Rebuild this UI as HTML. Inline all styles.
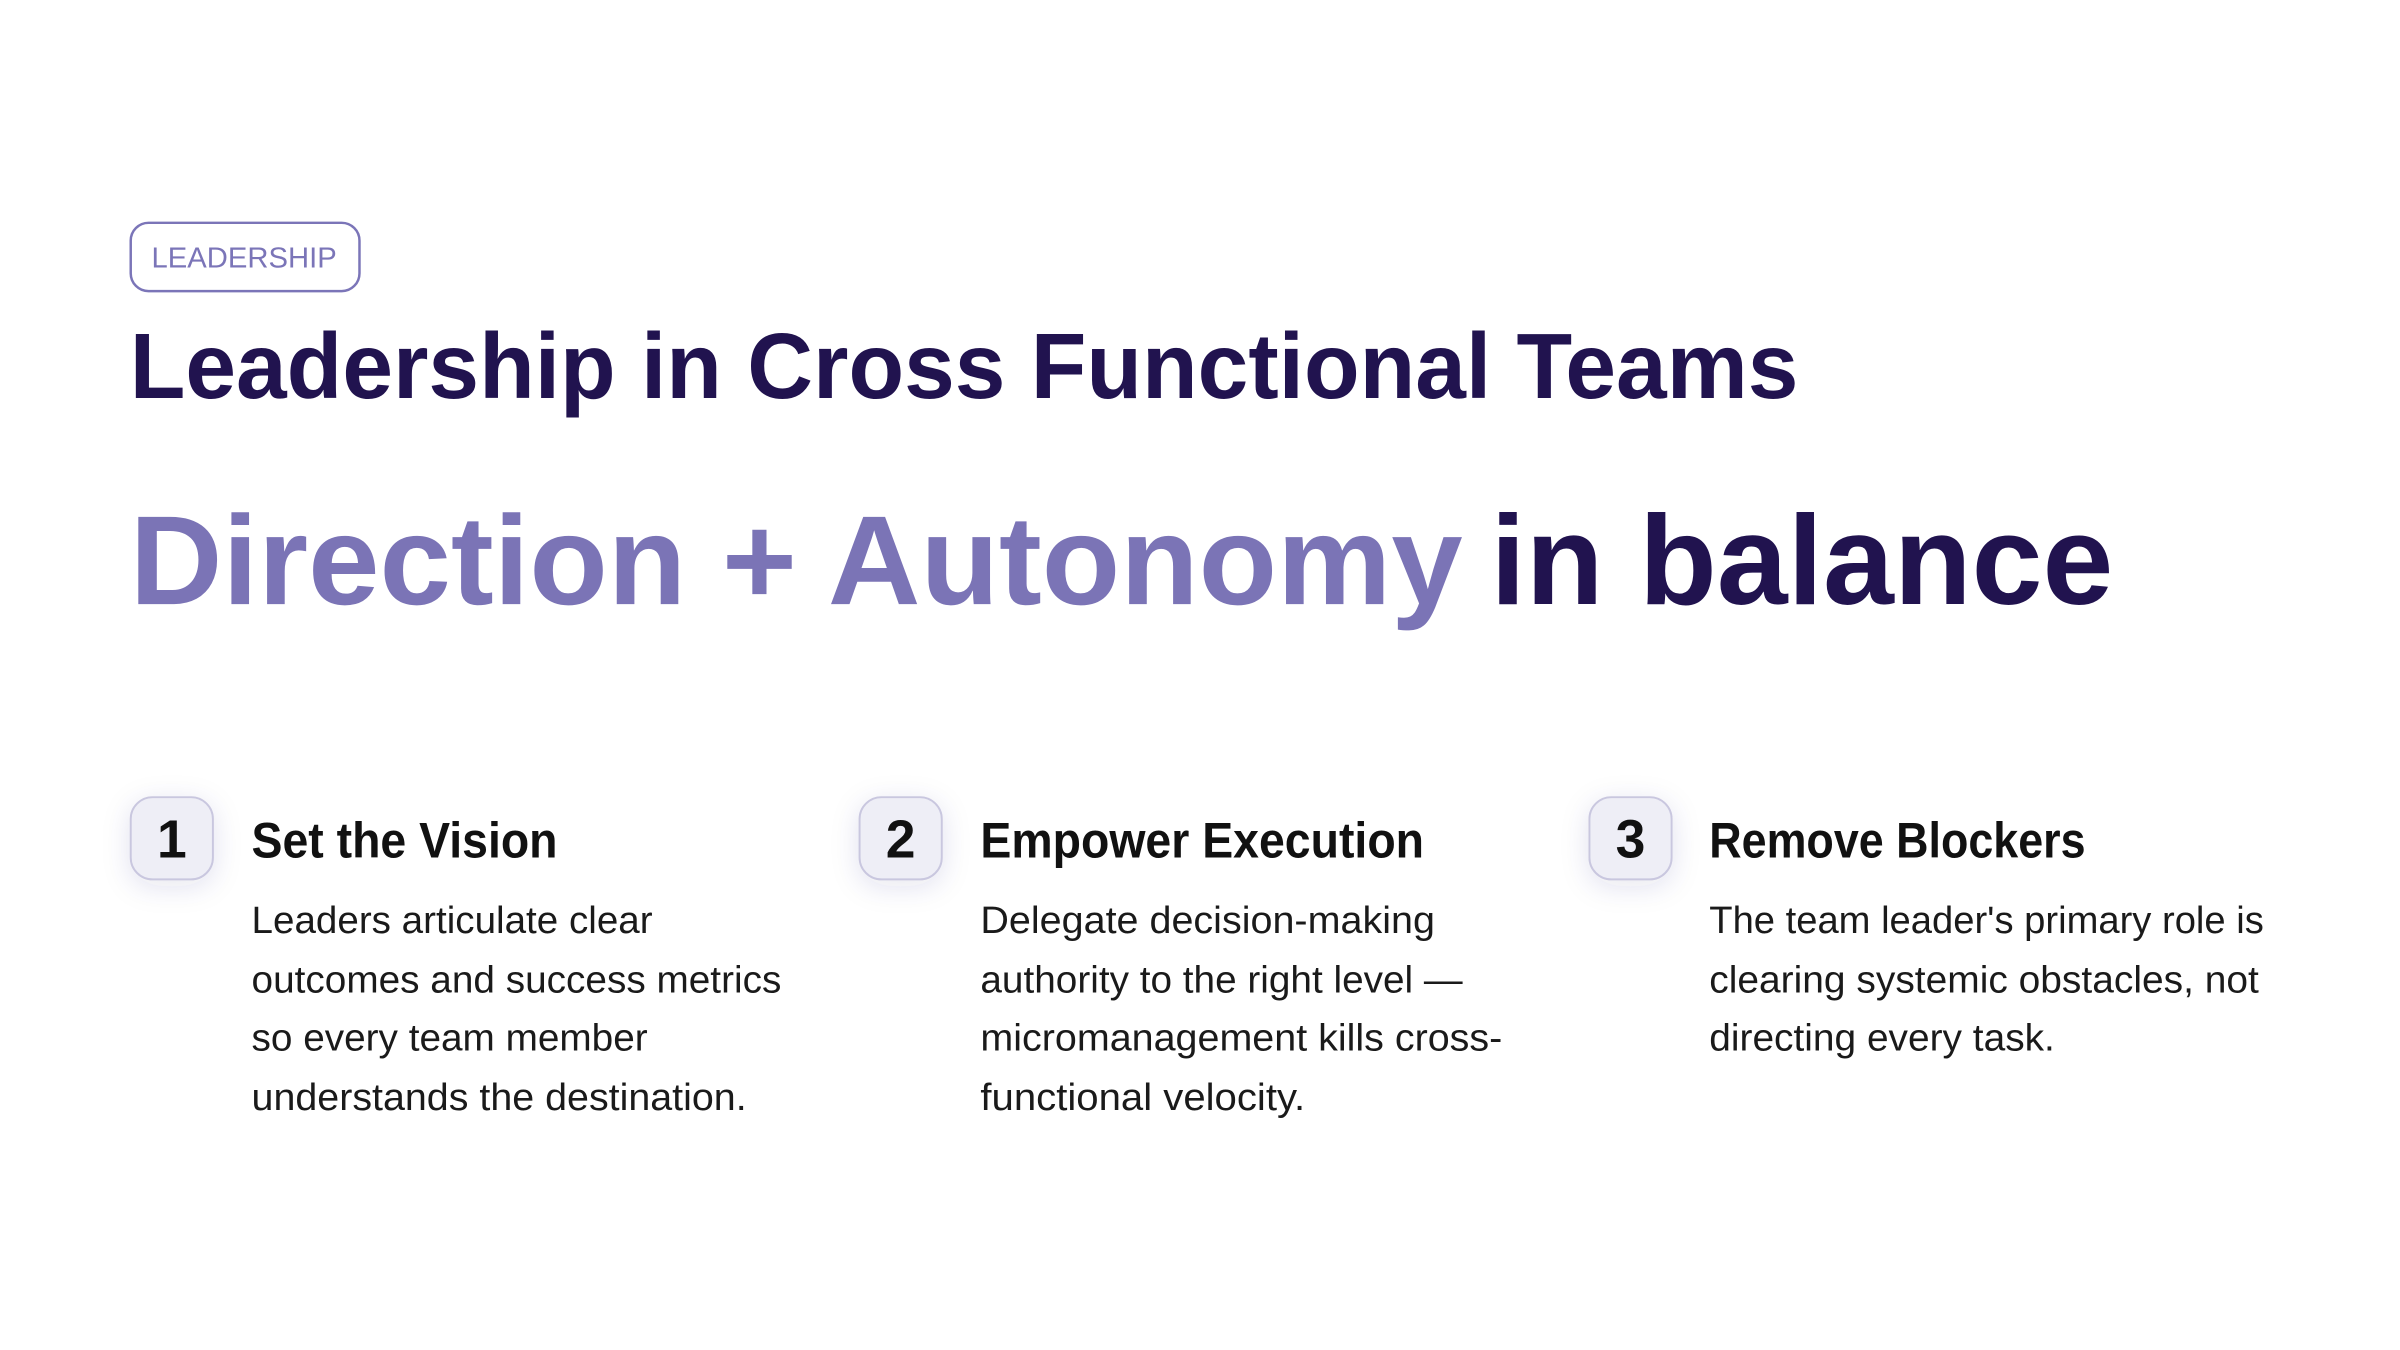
<!DOCTYPE html>
<html><head><meta charset="utf-8"><style>
html,body{margin:0;padding:0;background:#fff;width:2400px;height:1350px;overflow:hidden}
svg{display:block}
text{font-family:"Liberation Sans",sans-serif}
</style></head><body>
<svg width="2400" height="1350" viewBox="0 0 2400 1350" xmlns="http://www.w3.org/2000/svg">
<defs>
<filter id="sh" x="-80%" y="-80%" width="260%" height="260%"><feDropShadow dx="0" dy="6" stdDeviation="14" flood-color="#3a2f7a" flood-opacity="0.12"/></filter>
</defs>
<rect x="0" y="0" width="2400" height="1350" fill="#fff"/>
<g transform="scale(0.9903)">
<rect x="132" y="225" width="231" height="69" rx="18" fill="#fff" stroke="#7b75b8" stroke-width="2.5"/>
<text x="153" y="270" font-size="29" fill="#7b75b8" textLength="187" lengthAdjust="spacingAndGlyphs">LEADERSHIP</text>
<text x="131" y="402" font-size="94" font-weight="bold" fill="#21134f" textLength="1685" lengthAdjust="spacingAndGlyphs">Leadership in Cross Functional Teams</text>
<text x="131" y="610" font-size="128" font-weight="bold" fill="#7b74b6" textLength="1346" lengthAdjust="spacingAndGlyphs">Direction + Autonomy</text>
<text x="1505" y="610" font-size="128" font-weight="bold" fill="#21134f" textLength="629" lengthAdjust="spacingAndGlyphs">in balance</text>

<g filter="url(#sh)">
<rect x="132" y="805" width="83" height="83" rx="22" fill="#eeeef6" stroke="#c9c7df" stroke-width="2"/>
<rect x="868" y="805" width="83" height="83" rx="22" fill="#eeeef6" stroke="#c9c7df" stroke-width="2"/>
<rect x="1605" y="805" width="83" height="83" rx="22" fill="#eeeef6" stroke="#c9c7df" stroke-width="2"/>
</g>
<g font-size="54" font-weight="bold" fill="#111" text-anchor="middle">
<text x="173.5" y="866">1</text>
<text x="909.5" y="866">2</text>
<text x="1646.5" y="866">3</text>
</g>
<g font-size="51" font-weight="bold" fill="#111">
<text x="254" y="866" textLength="309" lengthAdjust="spacingAndGlyphs">Set the Vision</text>
<text x="990" y="866" textLength="448" lengthAdjust="spacingAndGlyphs">Empower Execution</text>
<text x="1726" y="866" textLength="380" lengthAdjust="spacingAndGlyphs">Remove Blockers</text>
</g>
<g font-size="38" fill="#1a1a1a">
<text x="254" y="942" textLength="405" lengthAdjust="spacingAndGlyphs">Leaders articulate clear</text>
<text x="254" y="1002" textLength="535" lengthAdjust="spacingAndGlyphs">outcomes and success metrics</text>
<text x="254" y="1061" textLength="400" lengthAdjust="spacingAndGlyphs">so every team member</text>
<text x="254" y="1121" textLength="500" lengthAdjust="spacingAndGlyphs">understands the destination.</text>
<text x="990" y="942" textLength="459" lengthAdjust="spacingAndGlyphs">Delegate decision-making</text>
<text x="990" y="1002" textLength="487" lengthAdjust="spacingAndGlyphs">authority to the right level —</text>
<text x="990" y="1061" textLength="527" lengthAdjust="spacingAndGlyphs">micromanagement kills cross-</text>
<text x="990" y="1121" textLength="328" lengthAdjust="spacingAndGlyphs">functional velocity.</text>
<text x="1726" y="942" textLength="560" lengthAdjust="spacingAndGlyphs">The team leader's primary role is</text>
<text x="1726" y="1002" textLength="555" lengthAdjust="spacingAndGlyphs">clearing systemic obstacles, not</text>
<text x="1726" y="1061" textLength="349" lengthAdjust="spacingAndGlyphs">directing every task.</text>
</g>
</g>
</svg>
</body></html>
